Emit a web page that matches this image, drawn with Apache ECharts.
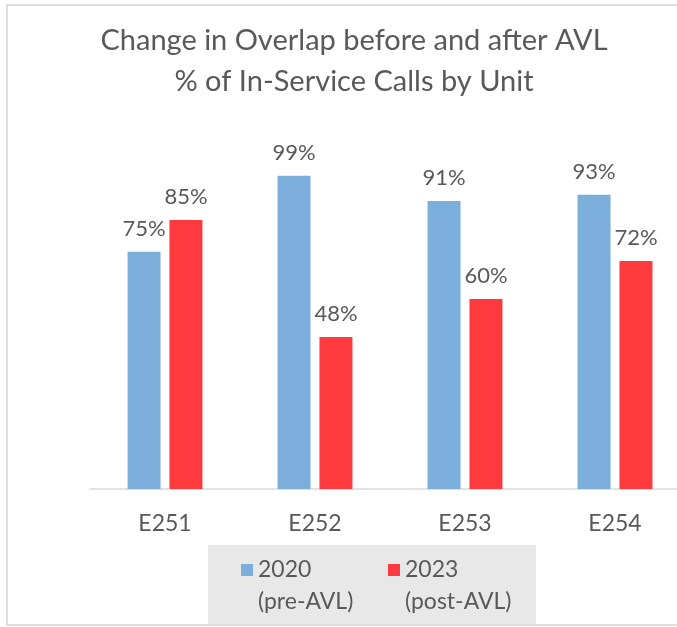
<!DOCTYPE html>
<html>
<head>
<meta charset="utf-8">
<script src="https://cdn.jsdelivr.net/npm/echarts@6/dist/echarts.min.js"></script>
<style>html,body{margin:0;padding:0;background:#fff;overflow:hidden}#c{width:720px;height:627px}</style>
</head>
<body>
<div id="c"></div>
<script>
const categories = ['E251', 'E252', 'E253', 'E254'];
const seriesNames = ['2020', '2023'];
const seriesSubtitles = ['(pre-AVL)', '(post-AVL)'];
const values2020 = [75, 99, 91, 93];
const values2023 = [85, 48, 60, 72];
const titleLines = ['Change in Overlap before and after AVL', '% of In-Service Calls by Unit'];

const FONT = 'Lato, "Open Sans", sans-serif';
const TXT = '#595959';
const BLUE = '#7BAEDA';
const RED = '#FD3A3E';

const chart = echarts.init(document.getElementById('c'), null, {renderer: 'canvas'});

function legendFmt(name) {
  const i = seriesNames.indexOf(name);
  return ' \n' + name + '\n' + seriesSubtitles[i];
}
const legendText = {color: TXT, fontFamily: FONT, fontSize: 23, lineHeight: 32};

chart.setOption({
  backgroundColor: '#ffffff',
  animation: false,
  title: {
    text: titleLines.join('\n'),
    left: 349, top: 15, textAlign: 'center',
    textStyle: {color: TXT, fontFamily: FONT, fontSize: 29, fontWeight: 'normal', lineHeight: 41}
  },
  graphic: [
    {type: 'rect', z: -10, shape: {x: 7, y: 5, width: 740, height: 620},
     style: {fill: 'none', stroke: '#dedede', lineWidth: 2}},
    {type: 'rect', z: 0, shape: {x: 208, y: 545, width: 328, height: 79},
     style: {fill: '#e8e8e8'}}
  ],
  legend: [
    {data: [seriesNames[0]], left: 241, top: 522, padding: 0, itemWidth: 12, itemHeight: 12,
     icon: 'rect', formatter: legendFmt, textStyle: legendText, z: 5},
    {data: [seriesNames[1]], left: 388, top: 522, padding: 0, itemWidth: 12, itemHeight: 12,
     icon: 'rect', formatter: legendFmt, textStyle: legendText, z: 5}
  ],
  grid: {left: 90, width: 600, top: 172.5, bottom: 138, containLabel: false},
  xAxis: {
    type: 'category', data: categories,
    axisLine: {lineStyle: {color: '#d9d9d9', width: 1.5}},
    axisTick: {show: false},
    axisLabel: {color: TXT, fontFamily: FONT, fontSize: 23, margin: 23}
  },
  yAxis: {type: 'value', min: 0, max: 100, show: false, splitLine: {show: false}},
  series: [
    {name: seriesNames[0], type: 'bar', data: values2020, barWidth: 33, barGap: '27%',
     itemStyle: {color: BLUE},
     label: {show: true, position: 'top', distance: 12, formatter: '{c}%', color: TXT, fontFamily: FONT, fontSize: 22}},
    {name: seriesNames[1], type: 'bar', data: values2023, barWidth: 33, barGap: '27%',
     itemStyle: {color: RED},
     label: {show: true, position: 'top', distance: 12, formatter: '{c}%', color: TXT, fontFamily: FONT, fontSize: 22}}
  ]
});
</script>
</body>
</html>
